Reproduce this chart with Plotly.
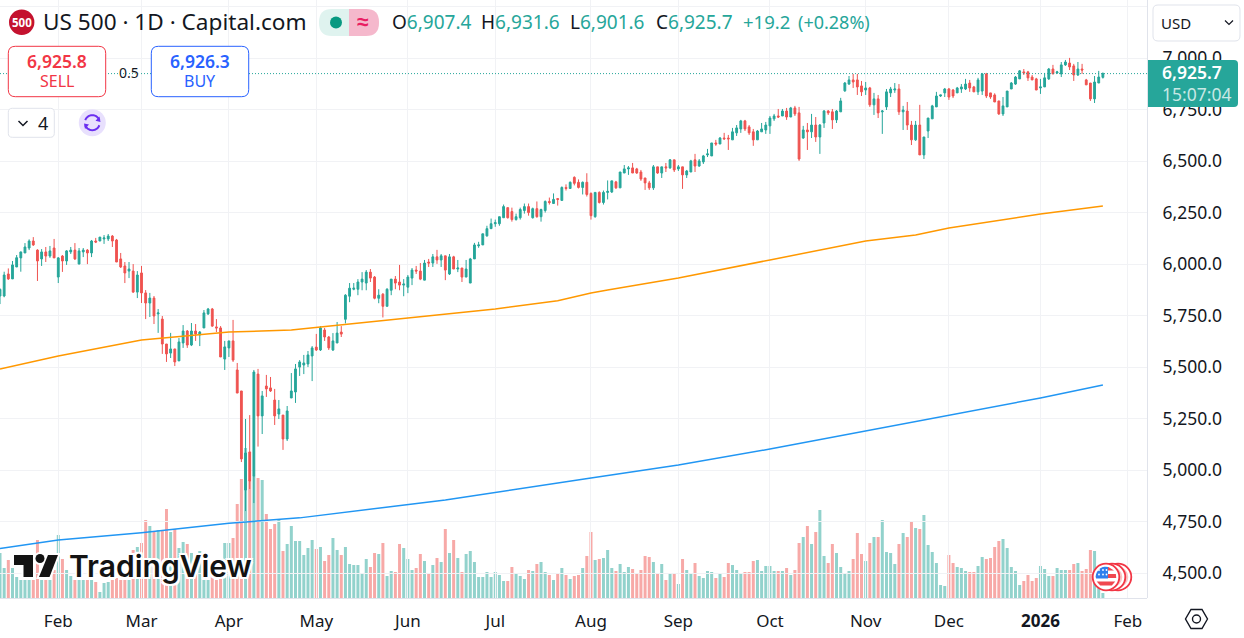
import math
import plotly.graph_objects as go

opens = [
    5846,5846,5953,5929,5987,6031,6055,6079,6113,6069,
    6026,6060,6040,6079,5938,6040,6016,6060,6069,6001,
    6060,6069,6055,6113,6113,6123,6123,6137,6118,6026,
    5992,5967,5967,5865,5958,5861,5812,5836,5759,5734,
    5613,5569,5589,5531,5618,5676,5608,5676,5657,5691,
    5759,5783,5696,5691,5540,5594,5628,5487,5385,4904,
    5089,4972,5467,5264,5409,5400,5341,5273,5268,5152,
    5351,5380,5501,5511,5516,5555,5598,5584,5681,5647,
    5584,5618,5671,5733,5845,5879,5879,5914,5909,5962,
    5938,5835,5855,5796,5874,5928,5914,5899,5889,5933,
    5972,5967,5923,6011,6006,6036,6021,6041,5953,6036,
    5977,5982,5938,5909,6026,6090,6094,6138,6173,6197,
    6197,6226,6275,6256,6217,6226,6261,6280,6226,6270,
    6231,6261,6305,6295,6319,6310,6373,6368,6422,6398,
    6373,6398,6344,6231,6349,6300,6349,6351,6400,6371,
    6443,6463,6468,6463,6448,6419,6395,6371,6473,6443,
    6473,6468,6507,6463,6473,6434,6448,6507,6477,6497,
    6531,6526,6589,6584,6613,6613,6604,6638,6657,6696,
    6667,6643,6604,6643,6652,6672,6706,6720,6720,6744,
    6715,6759,6735,6613,6652,6643,6676,6618,6686,6744,
    6740,6701,6740,6842,6875,6895,6895,6866,6846,6856,
    6774,6803,6740,6764,6832,6846,6851,6740,6744,6676,
    6604,6676,6531,6647,6706,6764,6817,6832,6851,6846,
    6832,6851,6851,6880,6861,6837,6841,6924,6832,6822,
    6793,6730,6764,6851,6875,6900,6934,6934,6909,6900,
    6856,6861,6900,6948,6929,6924,6968,6977,6963,6919,
    6948,6895,6880,6803,6880,6907.4,
]
highs = [
    5883,5964,5980,6016,6045,6061,6103,6121,6132,6073,
    6074,6084,6089,6123,6035,6045,6069,6084,6103,6079,
    6079,6074,6118,6128,6132,6142,6147,6142,6123,6055,
    6011,6011,6001,5967,5992,5875,5861,5846,5783,5749,
    5613,5667,5589,5642,5705,5681,5715,5710,5676,5778,
    5788,5788,5734,5700,5628,5628,5730,5521,5385,5249,
    5268,5487,5492,5385,5463,5453,5395,5341,5268,5312,
    5472,5516,5535,5560,5579,5603,5662,5700,5691,5652,
    5666,5720,5700,5855,5909,5909,5928,5962,5972,5977,
    5943,5879,5860,5884,5928,5943,5997,5928,5948,5982,
    5992,6006,6021,6026,6050,6070,6050,6041,6050,6041,
    6021,5982,6021,6031,6104,6109,6148,6187,6222,6217,
    6231,6290,6275,6275,6246,6275,6295,6295,6275,6305,
    6270,6310,6324,6344,6319,6378,6388,6402,6427,6412,
    6402,6442,6349,6349,6354,6358,6407,6405,6405,6448,
    6482,6477,6492,6468,6458,6419,6405,6482,6473,6473,
    6492,6511,6507,6482,6473,6458,6507,6536,6511,6531,
    6560,6589,6604,6618,6638,6628,6662,6676,6701,6701,
    6676,6657,6652,6686,6691,6720,6730,6754,6754,6759,
    6764,6769,6764,6672,6686,6730,6715,6681,6749,6749,
    6754,6749,6808,6885,6914,6924,6924,6890,6885,6861,
    6832,6822,6749,6851,6861,6880,6875,6769,6788,6696,
    6696,6774,6618,6710,6774,6837,6822,6856,6856,6851,
    6861,6875,6900,6895,6866,6905,6929,6929,6832,6830,
    6793,6812,6841,6885,6914,6943,6948,6939,6919,6905,
    6900,6929,6953,6968,6939,6982,6992,7002,6973,6982,
    6973,6900,6880,6914,6939,6931.6,
]
lows = [
    5807,5840,5924,5929,5987,5964,6055,6069,6089,5919,
    5992,6011,6031,6031,5909,5963,5997,6050,6021,6001,
    6035,6001,6035,6103,6113,6099,6113,6084,6011,5982,
    5909,5933,5861,5836,5812,5734,5744,5710,5667,5565,
    5526,5545,5506,5531,5594,5594,5603,5628,5603,5691,
    5754,5696,5671,5550,5487,5550,5526,5375,5040,4802,
    4909,4841,5115,5176,5356,5380,5220,5249,5099,5142,
    5351,5327,5458,5467,5501,5433,5579,5579,5628,5584,
    5579,5618,5647,5713,5816,5874,5850,5874,5874,5914,
    5830,5811,5742,5796,5850,5879,5874,5845,5860,5899,
    5953,5923,5923,5987,5987,6002,5987,5923,5948,5977,
    5962,5914,5938,5909,6026,6080,6094,6134,6173,6182,
    6187,6226,6222,6207,6212,6217,6246,6236,6222,6226,
    6207,6251,6290,6295,6285,6310,6358,6368,6383,6368,
    6339,6329,6217,6226,6295,6290,6315,6346,6366,6371,
    6443,6434,6443,6439,6405,6361,6361,6361,6439,6419,
    6448,6463,6448,6453,6366,6419,6448,6448,6473,6487,
    6521,6526,6575,6584,6604,6555,6604,6623,6638,6647,
    6628,6575,6604,6643,6633,6633,6696,6710,6720,6701,
    6715,6720,6502,6609,6555,6613,6594,6536,6662,6725,
    6657,6686,6740,6837,6871,6856,6822,6817,6822,6764,
    6725,6710,6633,6749,6812,6832,6725,6652,6652,6579,
    6599,6531,6511,6613,6706,6764,6812,6812,6798,6807,
    6832,6832,6846,6837,6837,6822,6822,6807,6803,6788,
    6725,6720,6764,6851,6871,6900,6919,6890,6895,6846,
    6827,6861,6895,6924,6924,6909,6963,6943,6890,6914,
    6924,6871,6793,6783,6880,6901.6,
]
closes = [
    5878,5948,5929,5997,6032,6060,6084,6113,6094,6016,
    6060,6040,6065,6031,6031,6016,6065,6069,6026,6065,
    6069,6055,6113,6108,6132,6128,6137,6113,6011,5987,
    5958,5977,5865,5948,5861,5812,5836,5749,5764,5613,
    5565,5589,5526,5623,5676,5608,5676,5662,5671,5764,
    5783,5700,5691,5550,5599,5628,5535,5375,5055,5084,
    4948,5477,5264,5361,5395,5385,5264,5298,5152,5288,
    5385,5492,5526,5521,5560,5594,5584,5691,5647,5594,
    5628,5666,5661,5850,5884,5884,5914,5928,5962,5933,
    5835,5850,5796,5879,5928,5909,5899,5904,5938,5972,
    5967,5928,6006,6006,6036,6021,6041,5972,6036,5977,
    5982,5938,5977,6026,6094,6094,6148,6173,6197,6202,
    6231,6280,6226,6217,6231,6266,6280,6251,6270,6231,
    6266,6305,6300,6315,6315,6373,6368,6398,6393,6373,
    6398,6339,6236,6349,6300,6349,6354,6405,6371,6448,
    6463,6468,6443,6443,6414,6395,6371,6473,6443,6473,
    6468,6507,6458,6473,6434,6453,6502,6477,6502,6526,
    6536,6589,6584,6613,6609,6609,6643,6662,6696,6657,
    6638,6604,6647,6657,6676,6710,6720,6715,6744,6715,
    6759,6730,6511,6652,6643,6676,6618,6676,6744,6735,
    6701,6744,6793,6880,6895,6885,6861,6837,6856,6774,
    6803,6735,6744,6837,6851,6851,6740,6749,6676,6604,
    6676,6531,6618,6710,6769,6817,6822,6851,6812,6817,
    6856,6861,6875,6856,6837,6895,6924,6817,6812,6788,
    6730,6769,6841,6880,6909,6939,6929,6905,6895,6846,
    6861,6905,6948,6924,6934,6968,6982,6958,6919,6948,
    6943,6871,6803,6885,6909,6925.7,
]
# relative volume
volumes = [
    45,30,38,30,21,18,18,18,18,58,
    18,18,18,28,63,39,28,22,18,18,
    18,18,18,16,6,15,16,18,20,18,
    18,18,48,51,55,78,72,66,68,68,
    89,66,69,50,56,54,45,36,47,18,
    18,25,18,26,55,55,60,94,119,150,
    117,122,120,118,84,69,74,78,47,54,
    72,57,57,43,50,58,49,51,37,43,
    60,48,43,51,34,33,33,25,39,31,
    45,44,55,22,27,26,54,50,39,28,
    30,44,37,25,33,40,36,69,45,58,
    40,26,44,47,36,21,21,26,21,26,
    23,17,17,31,25,22,19,28,27,34,
    36,26,23,18,25,30,23,19,22,23,
    30,42,66,38,39,40,48,30,27,34,
    26,31,29,25,28,42,41,36,25,34,
    18,25,25,14,39,28,24,35,22,20,
    27,26,20,24,21,35,33,28,24,26,
    26,37,38,27,32,32,27,27,27,30,
    23,28,55,61,72,54,66,88,42,35,
    54,45,31,25,27,39,65,44,37,55,
    61,61,78,46,45,34,54,65,61,76,
    70,69,83,53,46,35,13,12,43,35,
    31,30,27,26,26,32,41,39,40,51,
    57,59,50,31,27,13,17,23,17,20,
    32,29,22,22,30,28,28,28,34,35,
    27,29,48,47,25,5,
]
orange_bars = [0,14,34,55,70,98,119,134,142,146,163,185,208,220,228,250,265]
orange_ma = [5492,5555,5633,5671,5681,5739,5783,5823,5861,5875,5933,6021,6113,6142,6176,6244,6283]
blue_bars = [0,14,34,55,72,84,107,142,163,185,208,228,250,265]
blue_ma = [4620,4662,4697,4743,4769,4798,4856,4963,5026,5103,5191,5264,5351,5414]

month_bars = [14,34,55,76,98,119,142,163,185,208,228,250,271]
month_labels = ["Feb","Mar","Apr","May","Jun","Jul","Aug","Sep","Oct","Nov","Dec","<b>2026</b>","Feb"]
price_ticks = [4500,4750,5000,5250,5500,5750,6000,6250,6500,6750,7000,7250]
price_labels = [f"{p:,.1f}" for p in price_ticks[:-1]] + [""]

UP = "#26a69a"
DOWN = "#ef5350"
INK = "#131722"
GRID = "#f1f2f5"
EDGE = "#e0e3eb"
FONT = "Noto Sans, sans-serif"
W, H = 1147, 598


# pixel position to paper coordinates, for the overlays only
def fx(x):
    return x / W


def fy(y):
    return 1 - y / H


def poly(pts, close=True):
    s = " ".join(("M" if i == 0 else "L") + f"{fx(x):.5f},{fy(y):.5f}" for i, (x, y) in enumerate(pts))
    return s + (" Z" if close else "")


def rrect(x0, y0, x1, y1, r, left=True, right=True):
    rl = r if left else 0
    rr = r if right else 0
    p = lambda x, y: f"{fx(x):.5f},{fy(y):.5f}"
    return (f"M{p(x0 + rl, y0)} L{p(x1 - rr, y0)} Q{p(x1, y0)} {p(x1, y0 + rr)} "
            f"L{p(x1, y1 - rr)} Q{p(x1, y1)} {p(x1 - rr, y1)} L{p(x0 + rl, y1)} "
            f"Q{p(x0, y1)} {p(x0, y1 - rl)} L{p(x0, y0 + rl)} Q{p(x0, y0)} {p(x0 + rl, y0)} Z")


shapes = []
notes = []


def path(d, fill="rgba(0,0,0,0)", line=None, width=1):
    shapes.append(dict(type="path", path=d, xref="paper", yref="paper", fillcolor=fill,
                       line=dict(color=line or "rgba(0,0,0,0)", width=width if line else 0)))


def disc(cx, cy, r, fill):
    shapes.append(dict(type="circle", xref="paper", yref="paper", x0=fx(cx - r), x1=fx(cx + r),
                       y0=fy(cy + r), y1=fy(cy - r), fillcolor=fill, line=dict(width=0)))


def label(x, y, s, size, color=INK, anchor="center", weight=None, family=FONT, shadow=None):
    font = dict(size=size, color=color, family=family)
    if weight:
        font["weight"] = weight
    if shadow:
        font["shadow"] = shadow
    notes.append(dict(x=fx(x), y=fy(y), xref="paper", yref="paper", text=s, showarrow=False,
                      xanchor=anchor, yanchor="middle", font=font))


# last price line
shapes.append(dict(type="line", xref="paper", yref="y2", x0=0, x1=1, y0=closes[-1], y1=closes[-1],
                   line=dict(color=UP, width=1, dash="1px,2px")))

# TradingView mark
halo = "white"
logo_parts = [
    [(14, 555), (33, 555), (33, 577), (23.5, 577), (23.5, 565), (14, 565)],
    [(48, 555), (58, 555), (49.5, 577), (39, 577)],
]
for part in logo_parts:
    path(poly(part), fill=halo, line=halo, width=4)
disc(40, 558.5, 6.5, halo)
for part in logo_parts:
    path(poly(part), fill="#131313")
disc(40, 558.5, 4.5, "#131313")
ring = ["white 2px 0", "white -2px 0", "white 0 2px", "white 0 -2px", "white 2px 2px",
        "white -2px 2px", "white 2px -2px", "white -2px -2px"]
label(67, 566, "TradingView", 30, color="#131313", anchor="left", weight=600, family="Inter, sans-serif",
      shadow=", ".join(ring))

# flag badges
for cx in (1118, 1112):
    disc(cx, 577, 14.2, "#f23645")
    disc(cx, 577, 12.4, "white")
    disc(cx, 577, 10.3, "#f9c3c4")
disc(1106, 577, 14.2, "#f23645")
disc(1106, 577, 12.4, "white")
disc(1106, 577, 10.3, "white")
for a, b in [(-10, -6.5), (-3, 1), (4.5, 8.5)]:
    hw0 = math.sqrt(max(10.3 ** 2 - a ** 2, 0))
    hw1 = math.sqrt(max(10.3 ** 2 - b ** 2, 0))
    path(poly([(1106 - hw0, 577 + a), (1106 + hw0, 577 + a), (1106 + hw1, 577 + b), (1106 - hw1, 577 + b)]), fill="#f0474f")
corner = [(1106 + 10.3 * math.cos(math.radians(d)), 577 + 10.3 * math.sin(math.radians(d))) for d in range(180, 271, 10)]
path(poly([(1096, 578.5), (1096.1, 577)] + corner + [(1108, 566.9), (1108, 578.5)]), fill="#2f80ed")
for dx, dy in [(1099, 570), (1103, 570), (1106.5, 570), (1099, 574.5), (1103, 574.5), (1106.5, 574.5)]:
    disc(dx, dy, 0.9, "white")

# header
disc(21.7, 22.3, 12.7, "#c4122f")
label(21.7, 22.5, "500", 11.5, color="white", weight=700)
label(40.5, 21.5, "US 500 · 1D · Capital.com", 22.6, anchor="left")
path(rrect(319, 9, 349, 36, 13, right=False), fill="#dff3ef")
path(rrect(349, 9, 379, 36, 13, left=False), fill="#f5b8cc")
disc(336, 22.5, 6, "#089981")
label(363, 21, "≈", 21, color="#e91e63", weight=700)
legend_items = [(389.5, "O", "6,907.4"), (479, "H", "6,931.6"), (568, "L", "6,901.6"), (654, "C", "6,925.7")]
for px, k, v in legend_items:
    label(px, 22, f'{k}<span style="color:{UP}">{v}</span>', 19, anchor="left")
label(741, 22, "+19.2", 18.5, color=UP, anchor="left")
label(796, 22, "(+0.28%)", 18, color=UP, anchor="left")

# sell and buy
path(rrect(8.3, 46.3, 105.7, 96.7, 7), fill="white", line="#f23645", width=1)
path(rrect(151.3, 46.3, 248.7, 96.7, 7), fill="white", line="#2962ff", width=1)
label(57, 61, "6,925.8", 17.5, color="#f23645", weight=600)
label(57, 81, "SELL", 16, color="#f23645")
label(200, 61, "6,926.3", 17.5, color="#2962ff", weight=600)
label(200, 81, "BUY", 16, color="#2962ff")
label(128.5, 72, "0.5", 14, shadow="white 1px 0, white -1px 0")

# indicator toggle and sync
path(rrect(8.3, 108.3, 54.3, 137.3, 4), fill="white", line=EDGE, width=1)
path(poly([(18.5, 121), (23, 125.5), (27.5, 121)], close=False), line=INK, width=1.5)
label(42.5, 123, "4", 18)
disc(92.3, 122.7, 13.5, "#e8e0fd")
for a0, a1 in [(200, 340), (20, 160)]:
    arc = [(92.3 + 7.5 * math.cos(math.radians(d)), 122.7 + 7.5 * math.sin(math.radians(d))) for d in range(a0, a1 + 1, 10)]
    path(poly(arc, close=False), line="#6b2ff0", width=2)
path(poly([(99.5, 116.5), (100.5, 122), (95.5, 120.8)]), fill="#6b2ff0")
path(poly([(85, 129), (84, 123.5), (89, 124.6)]), fill="#6b2ff0")

# right column
path(rrect(1153, 5, 1240, 41, 5), fill="white", line=EDGE, width=1)
label(1159, 22.5, "USD", 15, anchor="left")
path(poly([(1225, 20.5), (1229, 24.5), (1233, 20.5)], close=False), line=INK, width=1.2)
path(rrect(1148, 60, 1238, 107, 4, left=False), fill=UP)
label(1160, 72.5, "6,925.7", 17.5, color="white", anchor="left", weight=600)
label(1160, 94, "15:07:04", 17.5, color="rgba(255,255,255,0.75)", anchor="left")
hex_pts = [(1196.5 + 11 * math.cos(math.radians(d)), 619 + 11 * math.sin(math.radians(d))) for d in range(0, 360, 60)]
path(poly(hex_pts), line=INK, width=1.4)
shapes.append(dict(type="circle", xref="paper", yref="paper", x0=fx(1192.5), x1=fx(1200.5), y0=fy(623), y1=fy(615),
                   line=dict(color=INK, width=1.4)))

bars = list(range(len(closes)))
vol_colors = ["rgba(38,166,154,0.5)" if c >= o else "rgba(239,83,80,0.5)" for o, c in zip(opens, closes)]

fig = go.Figure()
fig.add_trace(go.Bar(x=bars, y=volumes, marker=dict(color=vol_colors, line=dict(width=0)), yaxis="y"))
fig.add_trace(go.Scatter(x=orange_bars, y=orange_ma, mode="lines", line=dict(color="#ff9800", width=1.5), yaxis="y2"))
fig.add_trace(go.Scatter(x=blue_bars, y=blue_ma, mode="lines", line=dict(color="#2196f3", width=1.5), yaxis="y2"))
fig.add_trace(go.Candlestick(
    x=bars, open=opens, high=highs, low=lows, close=closes, yaxis="y2", whiskerwidth=0,
    increasing=dict(line=dict(color=UP, width=1), fillcolor=UP),
    decreasing=dict(line=dict(color=DOWN, width=1), fillcolor=DOWN),
))

fig.update_layout(
    width=1244, height=638,
    margin=dict(l=0, r=97, t=0, b=40, autoexpand=False),
    paper_bgcolor="white", plot_bgcolor="rgba(0,0,0,0)",
    showlegend=False, bargap=0.28, boxgap=0.38,
    font=dict(family=FONT, color=INK),
    xaxis=dict(
        range=[0, 275.6], tickvals=month_bars, ticktext=month_labels, tickangle=0,
        showgrid=True, gridcolor=GRID, gridwidth=1, zeroline=False,
        showline=True, linecolor=EDGE, linewidth=1,
        ticks="outside", ticklen=8, tickcolor="rgba(0,0,0,0)",
        tickfont=dict(size=17, color=INK), rangeslider=dict(visible=False),
    ),
    yaxis=dict(domain=[0, 160 / H], range=[0, 160], visible=False, showgrid=False, zeroline=False),
    yaxis2=dict(
        domain=[0, 1], range=[4380, 7283], anchor="x", side="right",
        tickvals=price_ticks, ticktext=price_labels,
        showgrid=True, gridcolor=GRID, gridwidth=1, zeroline=False,
        showline=True, linecolor=EDGE, linewidth=1,
        ticks="outside", ticklen=11, tickcolor="rgba(0,0,0,0)",
        tickfont=dict(size=17.5, color=INK),
    ),
    shapes=shapes, annotations=notes,
)

fig.write_html("out.html", config=dict(displayModeBar=False),
               post_script="document.body.style.margin='0';document.body.style.overflow='hidden';")
